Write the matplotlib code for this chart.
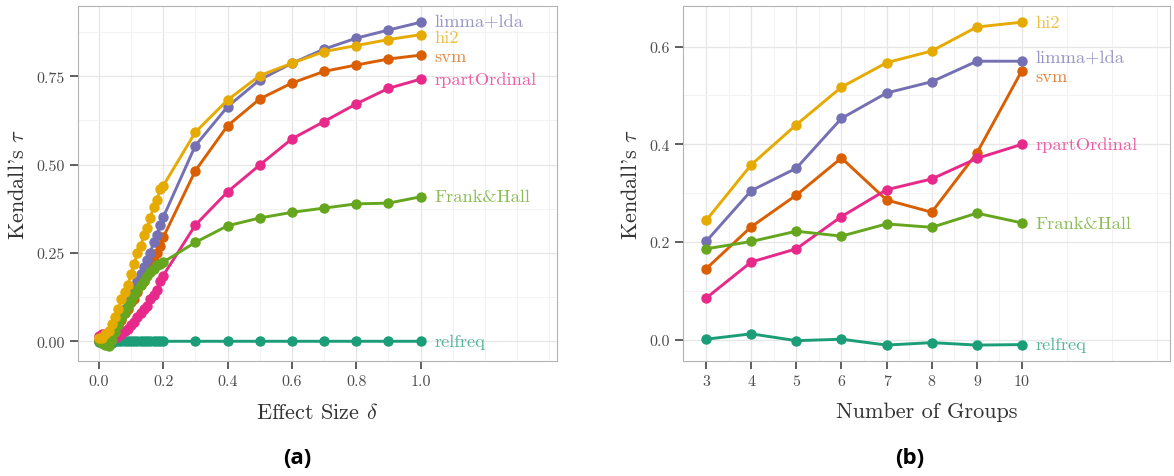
import matplotlib
matplotlib.use("Agg")
import matplotlib.pyplot as plt

plt.rcParams["font.family"] = "serif"
plt.rcParams["font.serif"] = ["cmr10"]
plt.rcParams["mathtext.fontset"] = "cm"
plt.rcParams["axes.formatter.use_mathtext"] = True

# ---- data -------------------------------------------------------------
methods = ["relfreq", "svm", "limma+lda", "rpartOrdinal", "Frank&Hall", "hi2"]
colors = ["#1B9E77", "#D95F02", "#7570B3", "#E7298A", "#66A61E", "#E6AB02"]

# panel (a): effect size
delta = [0.00, 0.01, 0.02, 0.03, 0.04, 0.05, 0.06, 0.07, 0.08, 0.09, 0.10,
         0.11, 0.12, 0.13, 0.14, 0.15, 0.16, 0.17, 0.18, 0.19, 0.20,
         0.3, 0.4, 0.5, 0.6, 0.7, 0.8, 0.9, 1.0]
tau_a = {
    "relfreq": [-0.003, -0.004, -0.006, -0.008, -0.004, 0.000, 0.000, 0.000, 0.000, 0.000, 0.000,
                0.000, 0.000, 0.000, 0.000, 0.000, 0.000, 0.000, 0.000, 0.000, 0.000,
                0.000, 0.000, 0.000, 0.000, 0.000, 0.000, 0.000, 0.000],
    "svm": [0.000, 0.000, 0.000, 0.010, 0.020, 0.030, 0.050, 0.060, 0.080, 0.090, 0.110,
            0.120, 0.140, 0.160, 0.170, 0.190, 0.210, 0.230, 0.250, 0.270, 0.294,
            0.483, 0.610, 0.686, 0.731, 0.764, 0.782, 0.799, 0.810],
    "limma+lda": [0.000, -0.005, -0.005, 0.000, 0.010, 0.030, 0.050, 0.070, 0.090, 0.110, 0.130,
                  0.150, 0.170, 0.190, 0.210, 0.230, 0.250, 0.280, 0.300, 0.330, 0.351,
                  0.554, 0.664, 0.740, 0.787, 0.827, 0.858, 0.881, 0.903],
    "rpartOrdinal": [0.015, 0.020, 0.020, 0.015, 0.010, 0.010, 0.015, 0.020, 0.030, 0.035, 0.045,
                     0.055, 0.070, 0.080, 0.090, 0.100, 0.120, 0.130, 0.145, 0.170, 0.186,
                     0.329, 0.423, 0.499, 0.573, 0.622, 0.672, 0.716, 0.742],
    "Frank&Hall": [0.000, -0.005, -0.010, -0.012, 0.005, 0.025, 0.045, 0.065, 0.080, 0.100, 0.115,
                   0.130, 0.145, 0.160, 0.170, 0.185, 0.195, 0.205, 0.215, 0.220, 0.224,
                   0.280, 0.327, 0.349, 0.365, 0.377, 0.389, 0.391, 0.409],
    "hi2": [0.010, 0.010, 0.020, 0.030, 0.050, 0.070, 0.090, 0.120, 0.140, 0.160, 0.190,
            0.220, 0.250, 0.270, 0.300, 0.320, 0.350, 0.380, 0.400, 0.430, 0.440,
            0.592, 0.683, 0.752, 0.787, 0.820, 0.837, 0.854, 0.868],
}

# panel (b): number of groups
groups = [3, 4, 5, 6, 7, 8, 9, 10]
tau_b = {
    "relfreq": [0.001, 0.012, -0.002, 0.001, -0.011, -0.006, -0.011, -0.010],
    "svm": [0.145, 0.231, 0.296, 0.372, 0.286, 0.261, 0.382, 0.551],
    "limma+lda": [0.201, 0.305, 0.351, 0.453, 0.505, 0.528, 0.570, 0.570],
    "rpartOrdinal": [0.085, 0.159, 0.186, 0.252, 0.307, 0.329, 0.371, 0.400],
    "Frank&Hall": [0.186, 0.201, 0.222, 0.212, 0.237, 0.230, 0.259, 0.239],
    "hi2": [0.244, 0.358, 0.440, 0.517, 0.567, 0.591, 0.640, 0.650],
}

xticks_a = [0.0, 0.2, 0.4, 0.6, 0.8, 1.0]
yticks_a = [0.00, 0.25, 0.50, 0.75]
xticks_b = [3, 4, 5, 6, 7, 8, 9, 10]
yticks_b = [0.0, 0.2, 0.4, 0.6]

# label nudges (points) to avoid overlap
nudge_a = {"hi2": -2, "svm": -1}
nudge_b = {"limma+lda": 2, "svm": -4}


def style_axes(ax, xt, yt, xfmt, yfmt, xminor, yminor):
    ax.set_xticks(xt)
    ax.set_xticklabels([xfmt.format(v) for v in xt])
    ax.set_yticks(yt)
    ax.set_yticklabels([yfmt.format(v) for v in yt])
    ax.set_xticks(xminor, minor=True)
    ax.set_yticks(yminor, minor=True)
    ax.grid(True, which="major", color="#e6e6e6", linewidth=0.9, zorder=0)
    ax.grid(True, which="minor", color="#f2f2f2", linewidth=0.7, zorder=0)
    ax.tick_params(which="major", length=5.5, width=1.1, color="#333333",
                   labelsize=11.5, labelcolor="#4d4d4d", pad=4)
    ax.tick_params(which="minor", length=0)
    for s in ax.spines.values():
        s.set_color("#b3b3b3")
        s.set_linewidth(0.8)
    ax.set_axisbelow(True)


def draw_panel(ax, x, data, nudge):
    for name, c in zip(methods, colors):
        y = data[name]
        ax.plot(x, y, color=c, lw=2.1, marker="o", ms=6.5, zorder=3)
        ax.annotate(name, xy=(x[-1], y[-1]), xytext=(10, nudge.get(name, 0)),
                    textcoords="offset points", ha="left", va="center",
                    color=c, alpha=0.75, fontsize=13.3)


fig = plt.figure(figsize=(11.74, 4.77), dpi=100)
ax1 = fig.add_axes([0.0664, 0.2417, 0.4078, 0.7436])
ax2 = fig.add_axes([0.5818, 0.2417, 0.4148, 0.7436])

draw_panel(ax1, delta, tau_a, nudge_a)
ax1.set_xlim(-0.065, 1.423)
ax1.set_ylim(-0.055, 0.949)
style_axes(ax1, xticks_a, yticks_a, "{:.1f}", "{:.2f}",
           [0.1, 0.3, 0.5, 0.7, 0.9, 1.1, 1.2, 1.3, 1.4],
           [0.125, 0.375, 0.625, 0.875])
ax1.set_xlabel(r"Effect Size $\delta$", fontsize=16, labelpad=10, color="#333333")
ax1.set_ylabel(r"Kendall's $\tau$", fontsize=16, labelpad=6, color="#333333")

draw_panel(ax2, groups, tau_b, nudge_b)
ax2.set_xlim(2.49, 13.28)
ax2.set_ylim(-0.043, 0.683)
style_axes(ax2, xticks_b, yticks_b, "{:d}", "{:.1f}",
           [3.5, 4.5, 5.5, 6.5, 7.5, 8.5, 9.5, 11, 12, 13],
           [0.1, 0.3, 0.5])
ax2.set_xlabel("Number of Groups", fontsize=16, labelpad=10, color="#333333")
ax2.set_ylabel(r"Kendall's $\tau$", fontsize=16, labelpad=6, color="#333333")

fig.text(297 / 1174, 1 - 459 / 477, "(a)", family="Open Sans", weight="bold",
         fontsize=16, ha="center", va="center")
fig.text(910 / 1174, 1 - 459 / 477, "(b)", family="Open Sans", weight="bold",
         fontsize=16, ha="center", va="center")

fig.savefig("out.png", dpi=100)
